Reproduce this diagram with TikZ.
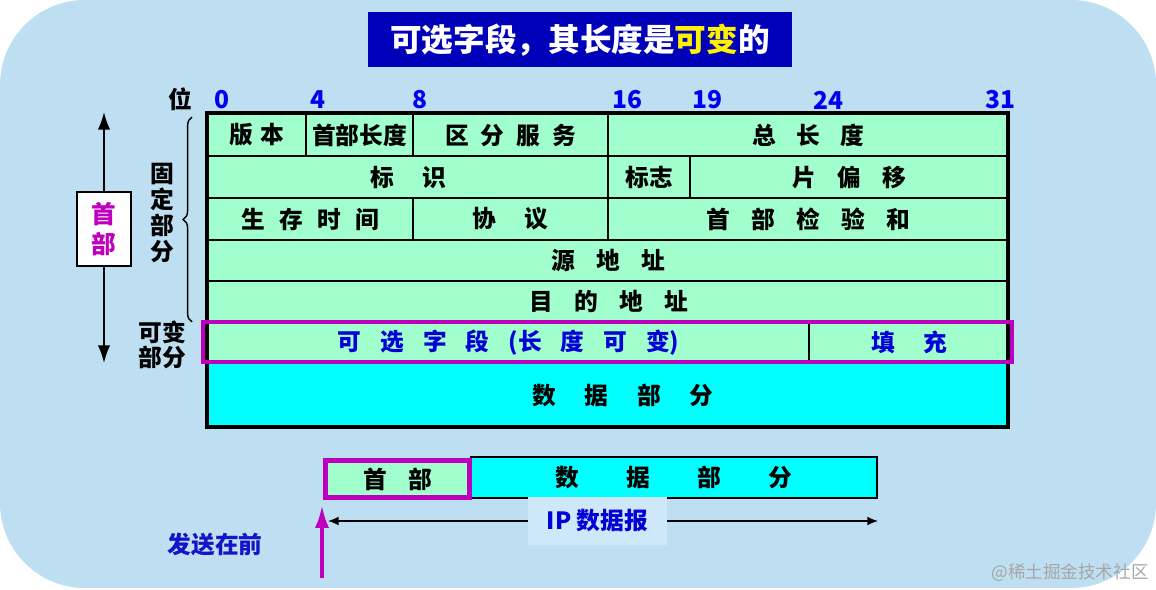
\documentclass[tikz,border=0pt]{standalone}
\usepackage{fontspec}
\setmainfont{Noto Sans CJK SC}
\usetikzlibrary{arrows.meta, fit, decorations.pathreplacing}
\definecolor{bgblue}{RGB}{190,222,242}
\definecolor{lblblue}{RGB}{206,232,249}
\definecolor{titleblue}{RGB}{0,0,185}
\definecolor{rowgreen}{RGB}{160,255,204}
\definecolor{datacyan}{RGB}{0,255,255}
\definecolor{numblue}{RGB}{0,0,240}
\definecolor{optblue}{RGB}{0,0,215}
\definecolor{hdmagenta}{RGB}{190,0,190}
\definecolor{sendblue}{RGB}{20,20,200}

\begin{document}
\begin{tikzpicture}[x=0.02cm, y=-0.02cm,
    field/.style={draw=black, line width=1.3pt, fill=rowgreen, inner sep=0pt, anchor=north west, font=\fontsize{13.5}{16}\selectfont\bfseries},
    optfield/.style={field, text=optblue},
    datafield/.style={field, fill=datacyan},
    cellsize/.style 2 args={minimum width=#1*0.02cm, minimum height=#2*0.02cm},
    bitnum/.style={text=numblue, inner sep=0pt, font=\fontsize{14}{16}\selectfont\bfseries},
    sidelbl/.style={align=center, inner sep=0pt, font=\fontsize{13.5}{14.7}\selectfont\bfseries},
    optframe/.style={draw=hdmagenta, line width=2.8pt},
    vertarrow/.style={-{Latex[length=10pt,width=7pt]}, line width=1pt}
  ]
    % background
    \fill[white] (0,0) rectangle (1156,590);
    \fill[bgblue, rounded corners=1.7cm] (0,0) rectangle (1156,588);
    \useasboundingbox (0,0) rectangle (1156,590);

    % title
    \node[fill=titleblue, text=white, minimum width=8.5cm, minimum height=1.1cm, font=\fontsize{18}{20}\selectfont\bfseries] (title) at (580,40) {可选字段，其长度是\textcolor{yellow}{可变}的};

    % bit positions
    \node[inner sep=0pt, font=\fontsize{13.5}{16}\selectfont\bfseries] (wei) at (180,99) {位};
    \foreach \b/\x in {0/222, 4/318, 8/420, 16/627, 19/707, 24/828, 31/1000}
      \node[bitnum] (bit\b) at (\x,100) {\b};

    % header fields
    \node[field, cellsize={98}{42}] (ver) at (207,113) {版\hspace{.3em}本};
    \node[field, cellsize={107}{42}] (hlen) at (305,113) {首部长度};
    \node[field, cellsize={195}{42}] (tos) at (412,113) {区\hspace{.5em}分\hspace{.5em}服\hspace{.5em}务};
    \node[field, cellsize={401}{42}] (totlen) at (607,113) {总\hspace{.85em}长\hspace{.85em}度};
    \node[field, cellsize={400}{42}] (ident) at (207,155) {标\hspace{1.2em}识};
    \node[field, cellsize={82}{42}] (flag) at (607,155) {标志};
    \node[field, cellsize={319}{42}] (frag) at (689,155) {片\hspace{.9em}偏\hspace{.9em}移};
    \node[field, cellsize={205}{42}] (ttl) at (207,197) {生\hspace{.6em}存\hspace{.6em}时\hspace{.6em}间};
    \node[field, cellsize={195}{42}] (proto) at (412,197) {协\hspace{1.2em}议};
    \node[field, cellsize={401}{42}] (csum) at (607,197) {首\hspace{.9em}部\hspace{.9em}检\hspace{.9em}验\hspace{.9em}和};
    \node[field, cellsize={801}{41}] (src) at (207,239) {源\hspace{.9em}地\hspace{.9em}址};
    \node[field, cellsize={801}{41}] (dst) at (207,280) {目\hspace{.9em}的\hspace{.9em}地\hspace{.9em}址};
    \node[optfield, cellsize={601}{41}] (opt) at (207,321) {可\hspace{.8em}选\hspace{.8em}字\hspace{.8em}段\hspace{.8em}(长\hspace{.8em}度\hspace{.8em}可\hspace{.8em}变)};
    \node[optfield, cellsize={200}{41}] (pad) at (808,321) {填\hspace{1.2em}充};
    \node[datafield, cellsize={801}{65}] (data) at (207,362) {\hspace{1.2em}数\hspace{1.2em}据\hspace{1.2em}部\hspace{1.2em}分};
    \draw[line width=2pt] (207,113) rectangle (1008,427);
    \node[optframe, inner sep=0pt, fit={(203,322) (1012,362)}] (optbox) {};

    % left side
    \node[draw=black, line width=0.8pt, fill=white, text=hdmagenta, minimum width=1.08cm, minimum height=1.48cm, align=center, font=\fontsize{14}{17}\selectfont\bfseries] (hdbox) at (104,229) {首\\部};
    \coordinate (htop) at (104,112);
    \coordinate (hbot) at (104,363);
    \draw[vertarrow] (hdbox) -- (htop);
    \draw[vertarrow] (hdbox) -- (hbot);
    \draw[line width=0.8pt, decorate, decoration={brace, amplitude=5pt}] (192,322) -- (192,117);
    \node[sidelbl] (fixlbl) at (162,213) {固\\定\\部\\分};
    \node[sidelbl, font=\fontsize{13.5}{14.2}\selectfont\bfseries] (varlbl) at (162,345) {可变\\部分};

    % datagram bar
    \node[datafield, line width=1.2pt, cellsize={406}{41}] (dgdata) at (470,456) {数\hspace{2em}据\hspace{2em}部\hspace{2em}分};
    \node[field, optframe, cellsize={144}{37}] (dghead) at (323,458) {首\hspace{.9em}部};
    \coordinate (dgl) at (328,521);
    \coordinate (dgr) at (878,521);
    \draw[{Latex[length=6pt,width=5pt]}-{Latex[length=6pt,width=5pt]}, line width=0.9pt] (dgl) -- (dgr)
      node[pos=0.49, fill=lblblue, text=optblue, minimum width=2.8cm, minimum height=0.95cm, font=\fontsize{13.5}{16}\selectfont\bfseries] (iplbl) {IP 数据报};
    \coordinate (sendtail) at (322,578);
    \coordinate (sendtip) at (322,505);
    \draw[-{Latex[length=13pt,width=8pt]}, draw=hdmagenta, line width=2.2pt] (sendtail) -- (sendtip);
    \node[text=sendblue, font=\fontsize{13.5}{16}\selectfont\bfseries] (sendlbl) at (215,545) {发送在前};

    \node[text=gray!70, font=\fontsize{10}{12}\selectfont] (wm) at (1070,573) {@稀土掘金技术社区};
  \end{tikzpicture}
\end{document}
